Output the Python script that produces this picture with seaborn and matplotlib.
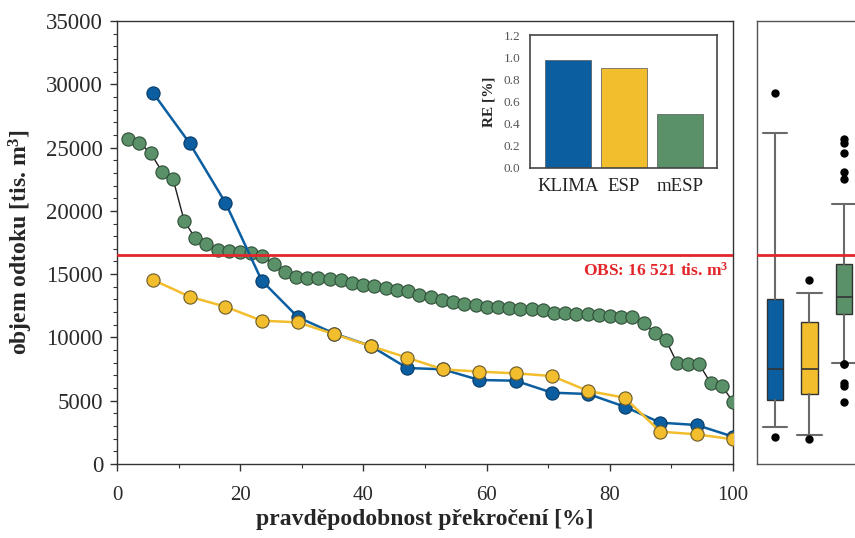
import numpy as np
import pandas as pd
import matplotlib
matplotlib.use("Agg")
import matplotlib.pyplot as plt
import seaborn as sns
from matplotlib.ticker import MultipleLocator, FormatStrFormatter

# ---------------- data ----------------
klima_p = [5.9, 11.8, 17.6, 23.5, 29.4, 35.3, 41.2, 47.1, 52.9, 58.8, 64.7, 70.6, 76.5, 82.4, 88.2, 94.1, 100.0]
klima_v = [29290, 25337, 20647, 14485, 11588, 10300, 9323, 7585, 7480, 6637, 6580, 5636, 5530, 4530, 3265, 3081, 2160]

esp_p = [5.9, 11.8, 17.6, 23.5, 29.4, 35.3, 41.2, 47.1, 52.9, 58.8, 64.7, 70.6, 76.5, 82.4, 88.2, 94.1, 100.0]
esp_v = [14537, 13218, 12428, 11322, 11193, 10245, 9323, 8400, 7480, 7295, 7164, 6953, 5768, 5240, 2555, 2344, 1950]

mesp_p = [1.8, 3.6, 5.5, 7.3, 9.1, 10.9, 12.7, 14.5, 16.4, 18.2, 20.0, 21.8, 23.6, 25.5, 27.3,
          29.1, 30.9, 32.7, 34.5, 36.4, 38.2, 40.0, 41.8, 43.6, 45.5, 47.3, 49.1, 50.9, 52.7, 54.5,
          56.4, 58.2, 60.0, 61.8, 63.6, 65.5, 67.3, 69.1, 70.9, 72.7, 74.5, 76.4, 78.2, 80.0, 81.8,
          83.6, 85.5, 87.3, 89.1, 90.9, 92.7, 94.5, 96.4, 98.2, 100.0]
mesp_v = [25700, 25390, 24548, 23094, 22517, 19223, 17832, 17400, 16907, 16852, 16720, 16700, 16470, 15790, 15147,
          14770, 14700, 14670, 14616, 14500, 14300, 14180, 14050, 13931, 13747, 13668, 13350, 13200, 12957, 12825,
          12641, 12562, 12428, 12380, 12300, 12246, 12220, 12167, 11956, 11904, 11851, 11851, 11772, 11693, 11640,
          11588, 11166, 10324, 9797, 8003, 7900, 7900, 6373, 6162, 4924]

obs_value = 16521
obs_label = "OBS: 16 521 tis. m$^{\\mathbf{3}}$"

re_labels = ["KLIMA", "ESP", "mESP"]
re_values = [0.97, 0.90, 0.49]

x_ticks = [0, 20, 40, 60, 80, 100]
y_ticks = [0, 5000, 10000, 15000, 20000, 25000, 30000, 35000]

# ---------------- style ----------------
sns.set_theme(style="white")
plt.rcParams["font.family"] = ["Liberation Serif", "DejaVu Serif"]
plt.rcParams["mathtext.fontset"] = "custom"
plt.rcParams["mathtext.rm"] = "Liberation Serif"
plt.rcParams["mathtext.bf"] = "Liberation Serif:bold"
plt.rcParams["mathtext.it"] = "Liberation Serif:italic"

BLUE = "#0b5ea0"
YELLOW = "#f2be2d"
GREEN = "#5a9169"
RED = "#e3262a"
SPINE = "#333333"

W, H = 855, 538
fig = plt.figure(figsize=(W / 100, H / 100), dpi=100)
fig.patch.set_facecolor("white")

# ---------------- main axes ----------------
ax = fig.add_axes([117 / W, (H - 464) / H, (733 - 117) / W, (464 - 21) / H])

df_m = pd.DataFrame({"p": mesp_p, "v": mesp_v})
df_k = pd.DataFrame({"p": klima_p, "v": klima_v})
df_e = pd.DataFrame({"p": esp_p, "v": esp_v})

sns.lineplot(data=df_m, x="p", y="v", ax=ax, sort=False, estimator=None,
             color="#1e1e1e", linewidth=1.0, marker="o", markersize=9.5,
             markerfacecolor=GREEN, markeredgecolor="#2f4f37", markeredgewidth=0.8, zorder=3)
sns.lineplot(data=df_k, x="p", y="v", ax=ax, sort=False, estimator=None,
             color=BLUE, linewidth=1.8, marker="o", markersize=9.5,
             markerfacecolor=BLUE, markeredgecolor="#083a66", markeredgewidth=0.8, zorder=4)
sns.lineplot(data=df_e, x="p", y="v", ax=ax, sort=False, estimator=None,
             color=YELLOW, linewidth=1.8, marker="o", markersize=9.5,
             markerfacecolor=YELLOW, markeredgecolor="#6b5a2a", markeredgewidth=0.8, zorder=5)

ax.axhline(obs_value, color=RED, linewidth=2.0, zorder=6)
ax.text(99.2, obs_value - 550, obs_label, ha="right", va="top", color=RED,
        fontsize=12.5, fontweight="bold", zorder=7)

ax.set_xlim(0, 100)
ax.set_ylim(0, 35000)
ax.set_xticks(x_ticks)
ax.set_yticks(y_ticks)
ax.xaxis.set_minor_locator(MultipleLocator(10))
ax.yaxis.set_minor_locator(MultipleLocator(1000))
ax.tick_params(axis="both", which="major", direction="out", length=5, width=1, color=SPINE,
               bottom=True, left=True, labelcolor="#2a2a2a")
ax.tick_params(axis="both", which="minor", direction="out", length=2.8, width=0.8, color=SPINE,
               bottom=True, left=True)
ax.tick_params(axis="y", which="major", labelsize=16.5, pad=5)
ax.tick_params(axis="x", which="major", labelsize=15, pad=11)
ax.set_xlabel("pravděpodobnost překročení [%]", fontsize=17, fontweight="bold", labelpad=3)
ax.set_ylabel("objem odtoku [tis. m$^{\\mathbf{3}}$]", fontsize=17, fontweight="bold", labelpad=8)
for s in ax.spines.values():
    s.set_color(SPINE)
    s.set_linewidth(1.0)

# ---------------- inset bar chart ----------------
axin = fig.add_axes([530 / W, (H - 168) / H, (717 - 530) / W, (168 - 35) / H])
sns.barplot(x=re_labels, y=re_values, hue=re_labels, palette=[BLUE, YELLOW, GREEN],
            ax=axin, width=0.82, legend=False, saturation=1,
            edgecolor="#555555", linewidth=0.5)
axin.set_xlim(-0.68, 2.66)
axin.set_ylim(0, 1.2)
axin.set_yticks([0.0, 0.2, 0.4, 0.6, 0.8, 1.0, 1.2])
axin.yaxis.set_major_formatter(FormatStrFormatter("%.1f"))
axin.tick_params(axis="y", length=0, labelsize=9.5, pad=7, labelcolor="#555555")
axin.tick_params(axis="x", length=0, labelsize=13.5, pad=7, labelcolor="#222222")
axin.set_ylabel("RE [%]", fontsize=11, fontweight="bold", labelpad=6)
axin.set_xlabel("")
for s in axin.spines.values():
    s.set_color("#444444")
    s.set_linewidth(1.2)

# ---------------- box panel ----------------
axb = fig.add_axes([757 / W, (H - 464) / H, (885 - 757) / W, (464 - 21) / H])
stats = []
for name, vals in zip(re_labels, [klima_v, esp_v, mesp_v]):
    a = np.asarray(vals, dtype=float)
    p10, q1, med, q3, p90 = np.percentile(a, [10, 25, 50, 75, 90], method="weibull")
    stats.append(dict(label=name, med=med, q1=q1, q3=q3, whislo=p10, whishi=p90,
                      fliers=a[(a < p10) | (a > p90)]))
bp = axb.bxp(stats, positions=[0, 1, 2], widths=0.47, capwidths=0.72, patch_artist=True,
             showfliers=True,
             boxprops=dict(edgecolor="#333333", linewidth=1.0),
             medianprops=dict(color="#333333", linewidth=1.2),
             whiskerprops=dict(color="#6a6a6a", linewidth=1.5),
             capprops=dict(color="#6a6a6a", linewidth=1.5),
             flierprops=dict(marker="o", markerfacecolor="black", markeredgecolor="black",
                             markersize=5))
for patch, c in zip(bp["boxes"], [BLUE, YELLOW, GREEN]):
    patch.set_facecolor(c)
axb.axhline(obs_value, color=RED, linewidth=2.0, zorder=6)
axb.set_xlim(-0.52, -0.52 + 128 / 34.5)
axb.set_ylim(0, 35000)
axb.set_xticks([])
axb.set_yticks([])
for s in axb.spines.values():
    s.set_color("#555555")
    s.set_linewidth(1.0)

fig.savefig("out.png", dpi=100)
